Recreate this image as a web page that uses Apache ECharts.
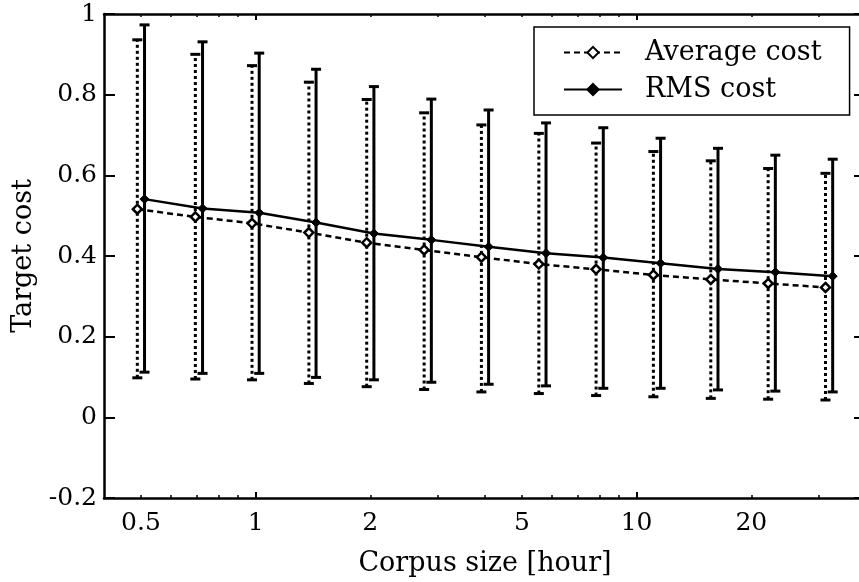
<!DOCTYPE html>
<html>
<head>
<meta charset="utf-8">
<script src="https://cdn.jsdelivr.net/npm/echarts@6/dist/echarts.min.js"></script>
<style>
html,body{margin:0;padding:0;background:#fff;}
#chart{width:859px;height:582px;}
</style>
</head>
<body>
<div id="chart"></div>
<script>
// ---- data ----
const hours = [0.5, 0.71, 1, 1.41, 2, 2.83, 4, 5.66, 8, 11.31, 16, 22.63, 32];
const avgCost = [0.516, 0.497, 0.481, 0.458, 0.433, 0.415, 0.397, 0.380, 0.367, 0.353, 0.342, 0.332, 0.322];
const avgLow  = [0.098, 0.095, 0.093, 0.084, 0.076, 0.069, 0.063, 0.059, 0.054, 0.051, 0.047, 0.045, 0.043];
const avgHigh = [0.936, 0.900, 0.872, 0.831, 0.788, 0.755, 0.725, 0.704, 0.680, 0.659, 0.636, 0.617, 0.605];
const rmsCost = [0.541, 0.518, 0.507, 0.483, 0.456, 0.440, 0.423, 0.407, 0.396, 0.382, 0.368, 0.360, 0.350];
const rmsLow  = [0.112, 0.109, 0.109, 0.099, 0.093, 0.087, 0.082, 0.078, 0.072, 0.072, 0.068, 0.065, 0.063];
const rmsHigh = [0.973, 0.931, 0.903, 0.863, 0.820, 0.789, 0.762, 0.730, 0.718, 0.692, 0.667, 0.650, 0.640];
const xTickLabels = [0.5, 1, 2, 5, 10, 20];
const xMajorTicks = [1, 10];
const xMinorTicks = [0.5, 0.6, 0.7, 0.8, 0.9, 2, 3, 4, 5, 6, 7, 8, 9, 20, 30];
const xRange = [0.4, 40];
const yRange = [-0.2, 1];
const yStep = 0.2;

// ---- helpers ----
const L = Math.log10;
const dodge = 1.022;
const FONT = 'DejaVu Serif';

function errRender(dash) {
  return function (params, api) {
    const x = api.value(0), lo = api.value(1), hi = api.value(2);
    const p1 = api.coord([x, lo]);
    const p2 = api.coord([x, hi]);
    const w = 5;
    return {
      type: 'group',
      children: [
        {type: 'line', shape: {x1: p1[0], y1: p1[1], x2: p2[0], y2: p2[1]},
          style: {stroke: '#000', lineWidth: 3, lineDash: dash}},
        {type: 'line', shape: {x1: p1[0] - w, y1: p1[1], x2: p1[0] + w, y2: p1[1]},
          style: {stroke: '#000', lineWidth: 3}},
        {type: 'line', shape: {x1: p2[0] - w, y1: p2[1], x2: p2[0] + w, y2: p2[1]},
          style: {stroke: '#000', lineWidth: 3}}
      ]
    };
  };
}

const avgX = hours.map(h => L(h / dodge));
const rmsX = hours.map(h => L(h * dodge));

const fmtX = v => String(+Math.pow(10, v).toPrecision(3));
const fmtY = v => String(+(+v).toFixed(1));

const frameLine = {show: true, onZero: false, lineStyle: {color: '#000', width: 2.5}};
const noLine = {show: false, onZero: false};

const baseX = {
  type: 'value', min: L(xRange[0]), max: L(xRange[1]),
  splitLine: {show: false},
  axisLine: frameLine,
  axisLabel: {show: false}
};

const chart = echarts.init(document.getElementById('chart'), null, {renderer: 'canvas'});
chart.setOption({
  animation: false,
  backgroundColor: '#fff',
  textStyle: {fontFamily: FONT, color: '#000'},
  grid: {left: 104, top: 14, width: 762, height: 484, containLabel: false, outerBoundsMode: 'none'},
  legend: {
    data: ['Average cost', 'RMS cost'],
    orient: 'vertical',
    left: 534, top: 27,
    padding: [12, 28, 12, 29],
    itemGap: 10,
    itemWidth: 58, itemHeight: 14,
    borderColor: '#000', borderWidth: 1.5,
    backgroundColor: '#fff',
    textStyle: {fontFamily: FONT, fontSize: 27, color: '#000', padding: [0, 0, 0, 18]}
  },
  xAxis: [
    Object.assign({}, baseX, {
      position: 'bottom',
      name: 'Corpus size [hour]', nameLocation: 'middle', nameGap: 52,
      nameTextStyle: {fontFamily: FONT, fontSize: 27, color: '#000'},
      axisTick: {show: true, inside: true, length: 6, customValues: xMajorTicks.map(L), lineStyle: {color: '#000', width: 2}},
      axisLabel: {show: true, margin: 13, fontSize: 25, fontFamily: FONT, color: '#000',
        customValues: xTickLabels.map(L), formatter: fmtX}
    }),
    Object.assign({}, baseX, {
      position: 'bottom',
      axisLine: noLine,
      axisTick: {show: true, inside: true, length: 3, customValues: xMinorTicks.map(L), lineStyle: {color: '#000', width: 1.5}}
    }),
    Object.assign({}, baseX, {
      position: 'top',
      axisTick: {show: true, inside: true, length: 6, customValues: xMajorTicks.map(L), lineStyle: {color: '#000', width: 2}}
    }),
    Object.assign({}, baseX, {
      position: 'top',
      axisLine: noLine,
      axisTick: {show: true, inside: true, length: 3, customValues: xMinorTicks.map(L), lineStyle: {color: '#000', width: 1.5}}
    })
  ],
  yAxis: [
    {
      type: 'value', position: 'left', min: yRange[0], max: yRange[1], interval: yStep,
      name: 'Target cost', nameLocation: 'middle', nameGap: 53,
      nameTextStyle: {fontFamily: FONT, fontSize: 27, color: '#000'},
      splitLine: {show: false},
      axisLine: frameLine,
      axisTick: {show: true, inside: true, length: 11, lineStyle: {color: '#000', width: 2}},
      axisLabel: {show: true, margin: 7, fontSize: 25, fontFamily: FONT, color: '#000', formatter: fmtY}
    },
    {
      type: 'value', position: 'right', min: yRange[0], max: yRange[1], interval: yStep,
      splitLine: {show: false},
      axisLine: {show: false, onZero: false},
      axisTick: {show: true, inside: true, length: 12, lineStyle: {color: '#000', width: 2}},
      axisLabel: {show: false}
    }
  ],
  series: [
    {
      name: 'avgErr', type: 'custom', xAxisIndex: 0, yAxisIndex: 0,
      renderItem: errRender([3, 3]),
      encode: {x: 0, y: [1, 2]},
      data: avgX.map((x, i) => [x, avgLow[i], avgHigh[i]]),
      z: 2, silent: true
    },
    {
      name: 'rmsErr', type: 'custom', xAxisIndex: 0, yAxisIndex: 0,
      renderItem: errRender(null),
      encode: {x: 0, y: [1, 2]},
      data: rmsX.map((x, i) => [x, rmsLow[i], rmsHigh[i]]),
      z: 2, silent: true
    },
    {
      name: 'Average cost', type: 'line', xAxisIndex: 0, yAxisIndex: 0,
      data: avgX.map((x, i) => [x, avgCost[i]]),
      symbol: 'diamond', symbolSize: 9,
      itemStyle: {color: '#fff', borderColor: '#000', borderWidth: 2.5},
      lineStyle: {color: '#000', width: 2.5, type: [6, 4]},
      z: 3, silent: true
    },
    {
      name: 'RMS cost', type: 'line', xAxisIndex: 0, yAxisIndex: 0,
      data: rmsX.map((x, i) => [x, rmsCost[i]]),
      symbol: 'diamond', symbolSize: 9,
      itemStyle: {color: '#000', borderColor: '#000', borderWidth: 1},
      lineStyle: {color: '#000', width: 2.5, type: 'solid'},
      z: 3, silent: true
    }
  ]
});
</script>
</body>
</html>
